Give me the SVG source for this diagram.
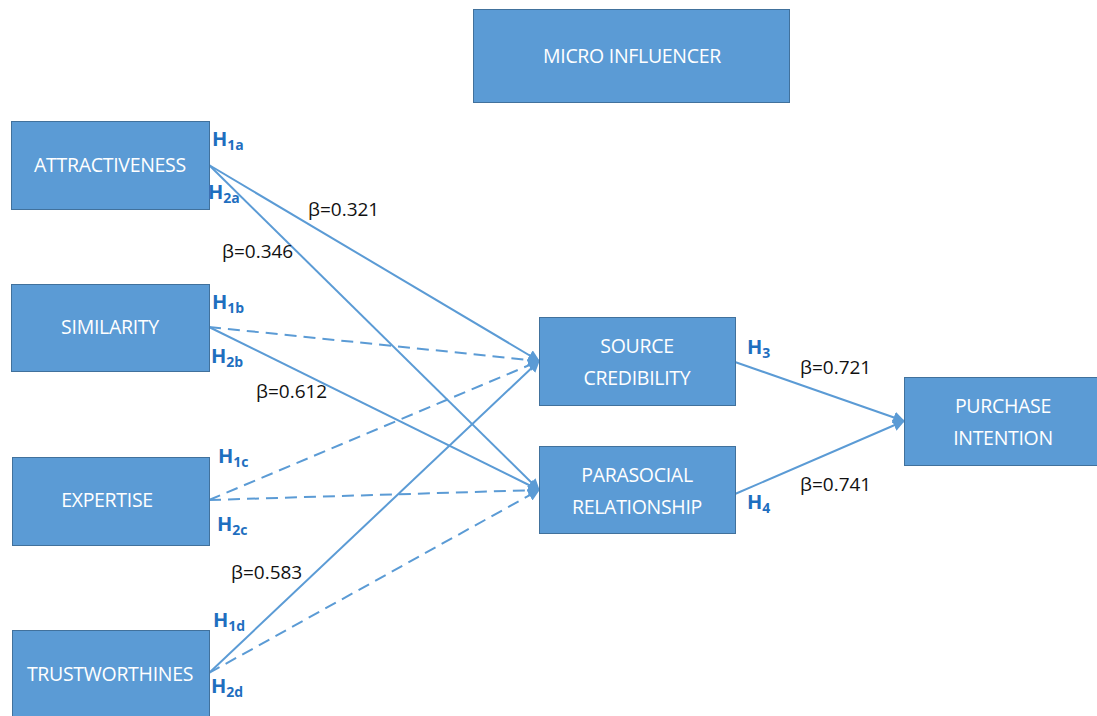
<svg xmlns="http://www.w3.org/2000/svg" width="1097" height="716" viewBox="0 0 1097 716">
<defs>
<style>
.box{fill:#5B9BD5;stroke:#41719C;stroke-width:1}
.bt{fill:#FFFFFF;font-family:"Open Sans","Liberation Sans",sans-serif;font-size:19.5px;text-anchor:middle;letter-spacing:-0.3px}
.ln{stroke:#5B9BD5;stroke-width:2;fill:none}
.dash{stroke-dasharray:12 7}
.h{fill:#1F6FBF;font-family:"Open Sans","Liberation Sans",sans-serif;font-size:20px;font-weight:bold}
.hs{font-size:14px}
.b{fill:#111111;font-family:"Open Sans","Liberation Sans",sans-serif;font-size:19px}
</style>
<marker id="ah" viewBox="0 0 10 10" refX="9" refY="5" markerWidth="6" markerHeight="6" orient="auto" markerUnits="strokeWidth">
<path d="M0,0 L10,5 L0,10 z" fill="#5B9BD5"/>
</marker>
</defs>
<rect width="1097" height="716" fill="#FFFFFF"/>
<g id="connectors">
<line class="ln" x1="209" y1="165" x2="539" y2="361" marker-end="url(#ah)"/>
<line class="ln" x1="209" y1="165" x2="539" y2="490" marker-end="url(#ah)"/>
<line class="ln dash" x1="209" y1="327" x2="539" y2="361" marker-end="url(#ah)"/>
<line class="ln" x1="209" y1="327" x2="539" y2="490" marker-end="url(#ah)"/>
<line class="ln dash" x1="209" y1="500" x2="539" y2="361" marker-end="url(#ah)"/>
<line class="ln dash" x1="209" y1="500" x2="539" y2="490" marker-end="url(#ah)"/>
<line class="ln" x1="209" y1="673" x2="539" y2="361" marker-end="url(#ah)"/>
<line class="ln dash" x1="209" y1="673" x2="539" y2="490" marker-end="url(#ah)"/>
<line class="ln" x1="735" y1="362" x2="904" y2="421" marker-end="url(#ah)"/>
<line class="ln" x1="735" y1="494" x2="904" y2="421" marker-end="url(#ah)"/>
</g>
<g id="micro-influencer">
<rect class="box" x="473.5" y="9.5" width="316" height="93"/>
<text class="bt" x="632" y="63">MICRO INFLUENCER</text>
</g>
<g id="attractiveness">
<rect class="box" x="11.5" y="121.5" width="198" height="88"/>
<text class="bt" x="110" y="172">ATTRACTIVENESS</text>
</g>
<g id="similarity">
<rect class="box" x="11.5" y="284.5" width="198" height="87"/>
<text class="bt" x="110" y="334">SIMILARITY</text>
</g>
<g id="expertise">
<rect class="box" x="12.5" y="457.5" width="197" height="88"/>
<text class="bt" x="107" y="507">EXPERTISE</text>
</g>
<g id="trustworthines">
<rect class="box" x="12.5" y="630.5" width="197" height="90"/>
<text class="bt" x="110" y="681">TRUSTWORTHINES</text>
</g>
<g id="source-credibility">
<rect class="box" x="539.5" y="317.5" width="196" height="88"/>
<text class="bt" x="637" y="353">SOURCE</text>
<text class="bt" x="637" y="385">CREDIBILITY</text>
</g>
<g id="parasocial-relationship">
<rect class="box" x="539.5" y="446.5" width="196" height="87"/>
<text class="bt" x="637" y="482">PARASOCIAL</text>
<text class="bt" x="637" y="514">RELATIONSHIP</text>
</g>
<g id="purchase-intention">
<rect class="box" x="904.5" y="377.5" width="194" height="88"/>
<text class="bt" x="1003" y="413">PURCHASE</text>
<text class="bt" x="1003" y="445">INTENTION</text>
</g>
<g id="labels">
<text class="h" x="212" y="146">H<tspan class="hs" dy="4">1a</tspan></text>
<text class="h" x="208" y="199">H<tspan class="hs" dy="4">2a</tspan></text>
<text class="h" x="212" y="309">H<tspan class="hs" dy="4">1b</tspan></text>
<text class="h" x="211" y="363">H<tspan class="hs" dy="4">2b</tspan></text>
<text class="h" x="218" y="463">H<tspan class="hs" dy="4">1c</tspan></text>
<text class="h" x="217" y="531">H<tspan class="hs" dy="4">2c</tspan></text>
<text class="h" x="213" y="627">H<tspan class="hs" dy="4">1d</tspan></text>
<text class="h" x="211" y="693">H<tspan class="hs" dy="4">2d</tspan></text>
<text class="h" x="747" y="354">H<tspan class="hs" dy="4">3</tspan></text>
<text class="h" x="747" y="509">H<tspan class="hs" dy="4">4</tspan></text>
<text class="b" x="308" y="216">β=0.321</text>
<text class="b" x="222" y="258">β=0.346</text>
<text class="b" x="256" y="398">β=0.612</text>
<text class="b" x="231" y="579">β=0.583</text>
<text class="b" x="800" y="374">β=0.721</text>
<text class="b" x="800" y="491">β=0.741</text>
</g>
</svg>
